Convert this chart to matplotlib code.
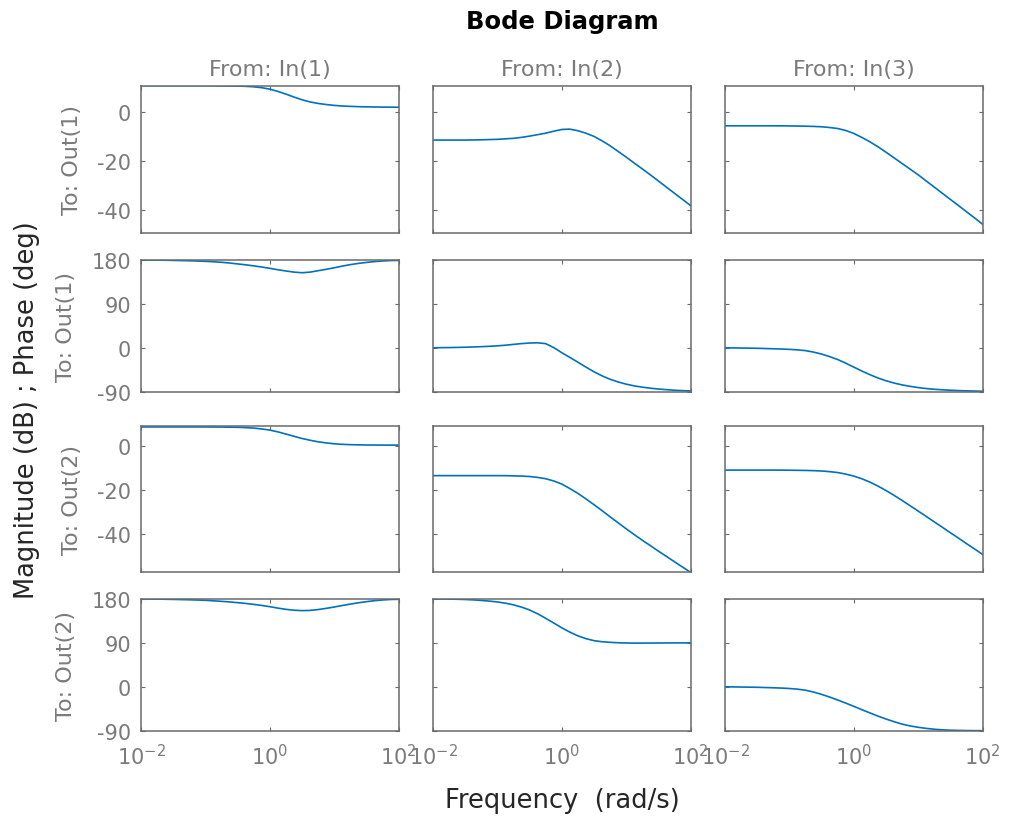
import matplotlib
matplotlib.use('Agg')
import matplotlib.pyplot as plt

plt.rcParams['font.family'] = ['DejaVu Sans']
plt.rcParams['axes.unicode_minus'] = False

# frequency grid (rad/s), 8 points per decade
freq = [0.01, 0.0133, 0.0178, 0.0237, 0.0316, 0.0422, 0.0562, 0.075,
        0.1, 0.133, 0.178, 0.237, 0.316, 0.422, 0.562, 0.75,
        1.0, 1.33, 1.78, 2.37, 3.16, 4.22, 5.62, 7.5,
        10.0, 13.3, 17.8, 23.7, 31.6, 42.2, 56.2, 75.0, 100.0]

# magnitude (dB)
mag_o1_i1 = [10.6, 10.6, 10.6, 10.6, 10.6, 10.6, 10.6, 10.6,
             10.6, 10.58, 10.55, 10.5, 10.45, 10.35, 10.15, 9.8,
             9.2, 8.3, 7.2, 6.0, 4.9, 4.0, 3.4, 2.95,
             2.6, 2.35, 2.2, 2.08, 2.0, 1.95, 1.9, 1.87, 1.85]
mag_o1_i2 = [-11.5, -11.5, -11.5, -11.5, -11.5, -11.45, -11.4, -11.3,
             -11.2, -11.0, -10.8, -10.4, -9.9, -9.3, -8.7, -7.9,
             -7.2, -7.05, -7.7, -8.7, -10.0, -11.8, -13.8, -16.1,
             -18.4, -20.8, -23.2, -25.6, -28.1, -30.6, -33.1, -35.6, -38.1]
mag_o1_i3 = [-5.7, -5.7, -5.7, -5.7, -5.7, -5.7, -5.7, -5.72,
             -5.75, -5.8, -5.85, -5.95, -6.1, -6.4, -6.8, -7.6,
             -8.8, -10.4, -12.2, -14.2, -16.4, -18.7, -21.0, -23.3,
             -25.6, -28.1, -30.6, -33.1, -35.6, -38.1, -40.6, -43.1, -45.7]
mag_o2_i1 = [8.5, 8.5, 8.5, 8.5, 8.5, 8.5, 8.5, 8.5,
             8.5, 8.48, 8.45, 8.4, 8.35, 8.2, 8.0, 7.6,
             7.1, 6.3, 5.3, 4.3, 3.3, 2.5, 1.8, 1.3,
             0.9, 0.65, 0.5, 0.42, 0.35, 0.32, 0.3, 0.3, 0.3]
mag_o2_i2 = [-13.5, -13.5, -13.5, -13.5, -13.5, -13.5, -13.5, -13.5,
             -13.5, -13.52, -13.6, -13.7, -13.9, -14.3, -14.9, -15.9,
             -17.3, -19.3, -21.5, -24.0, -26.6, -29.3, -32.1, -34.8,
             -37.5, -40.1, -42.7, -45.1, -47.6, -50.0, -52.4, -54.8, -57.2]
mag_o2_i3 = [-11.0, -11.0, -11.0, -11.0, -11.0, -11.0, -11.0, -11.02,
             -11.05, -11.1, -11.15, -11.25, -11.4, -11.7, -12.1, -12.8,
             -13.7, -14.9, -16.4, -18.2, -20.2, -22.4, -24.7, -27.1,
             -29.5, -31.9, -34.4, -36.8, -39.3, -41.7, -44.2, -46.6, -49.1]

# phase (deg)
ph_o1_i1 = [180, 179.9, 179.8, 179.5, 179.2, 178.8, 178.4, 177.9,
            177.3, 176.4, 175.3, 173.8, 172, 170.1, 168, 165.6,
            163, 160.1, 157.5, 155.2, 153.9, 155.1, 158, 160.9,
            164, 167.4, 170.5, 173, 175, 176.7, 178, 178.8, 179.3]
ph_o1_i2 = [0, 0.3, 0.5, 0.8, 1.2, 1.7, 2.3, 3.1,
            4.0, 5.3, 7.0, 8.6, 9.8, 10.3, 8.5, 0.5,
            -10.0, -19.5, -29.5, -39.5, -49, -57.5, -64.5, -70,
            -74.5, -78, -80.7, -82.8, -84.5, -85.8, -87, -87.8, -88.5]
ph_o1_i3 = [0, -0.2, -0.5, -0.7, -1, -1.5, -2, -2.5,
            -3.2, -4.2, -5.8, -8.8, -12.8, -18, -24, -31.5,
            -39.5, -47.5, -55, -61.8, -67.5, -72.2, -76, -79,
            -81.5, -83.5, -85, -86.1, -87, -87.7, -88.3, -88.7, -89]
ph_o2_i1 = [180, 179.9, 179.8, 179.5, 179.2, 178.8, 178.4, 177.9,
            177.3, 176.3, 175.2, 174, 172.5, 170.9, 169, 166.8,
            164.3, 161.4, 158.8, 157, 156.2, 156.6, 158.3, 160.8,
            163.5, 166.6, 169.5, 172.2, 174.5, 176.5, 178, 179, 179.5]
ph_o2_i2 = [180, 179.9, 179.8, 179.5, 179, 178.2, 177, 175.7,
            174, 171.4, 168, 163.4, 157.5, 149.7, 140.5, 130.8,
            121, 112.2, 104.5, 98.8, 94.6, 92.4, 91.2, 90.3,
            89.8, 89.6, 89.6, 89.7, 89.8, 89.9, 90, 90, 90]
ph_o2_i3 = [0, -0.2, -0.5, -0.7, -1, -1.5, -2, -2.6,
            -3.5, -4.8, -7, -10.8, -15.5, -21, -27, -33.4,
            -40, -46.8, -53.5, -60, -66, -71.5, -76.5, -80.2,
            -83, -85.2, -87, -88.2, -89, -89.4, -89.7, -89.9, -90]

inputs = ['From: In(1)', 'From: In(2)', 'From: In(3)']
outputs = ['To: Out(1)', 'To: Out(1)', 'To: Out(2)', 'To: Out(2)']
rows = [[mag_o1_i1, mag_o1_i2, mag_o1_i3],
        [ph_o1_i1, ph_o1_i2, ph_o1_i3],
        [mag_o2_i1, mag_o2_i2, mag_o2_i3],
        [ph_o2_i1, ph_o2_i2, ph_o2_i3]]
ylims = [(-49.4, 10.6), (-90, 180), (-57.2, 8.8), (-90, 180)]
yticks = [[-40, -20, 0], [-90, 0, 90, 180], [-40, -20, 0], [-90, 0, 90, 180]]

W, H = 1009, 820
col_left = [141, 433, 725]
col_w = 257.5
row_top = [86.7, 261, 427.3, 600]
row_bot = [234.3, 392.7, 573.3, 731.7]

frame = '#6a6a6a'
gray = '#7a7a7a'
blue = '#0072BD'

fig = plt.figure(figsize=(W / 100, H / 100), dpi=100)

for r in range(4):
    for c in range(3):
        ax = fig.add_axes([col_left[c] / W, 1 - row_bot[r] / H, col_w / W, (row_bot[r] - row_top[r]) / H])
        ax.semilogx(freq, rows[r][c], color=blue, lw=1.2)
        ax.set_xlim(0.01, 100)
        ax.set_ylim(*ylims[r])
        ax.set_xticks([0.01, 1, 100])
        ax.xaxis.set_minor_locator(matplotlib.ticker.NullLocator())
        ax.set_yticks(yticks[r])
        ax.tick_params(direction='in', length=3, width=0.8, color=frame, labelcolor=gray,
                       top=True, right=True, labelsize=15)
        ax.tick_params(axis='y', pad=7)
        ax.tick_params(axis='x', pad=9)
        for s in ax.spines.values():
            s.set_color(frame)
            s.set_linewidth(1.1)
        if c > 0:
            ax.set_yticklabels([])
        if r < 3:
            ax.set_xticklabels([])
        if r == 0:
            ax.set_title(inputs[c], color=gray, fontsize=16, pad=8)
        if c == 0:
            ax.set_ylabel(outputs[r], color=gray, fontsize=16, labelpad=11)

fig.text(562 / W, 1 - 22 / H, 'Bode Diagram', ha='center', va='center', fontsize=17.5,
         fontweight='bold', color='black')
fig.text(562 / W, 1 - 801 / H, 'Frequency  (rad/s)', ha='center', va='center', fontsize=18.5,
         color='#262626')
fig.text(27 / W, 1 - 410 / H, 'Magnitude (dB) ; Phase (deg)', ha='center', va='center',
         rotation=90, fontsize=18.5, color='#262626')

fig.savefig('out.png', dpi=100)
